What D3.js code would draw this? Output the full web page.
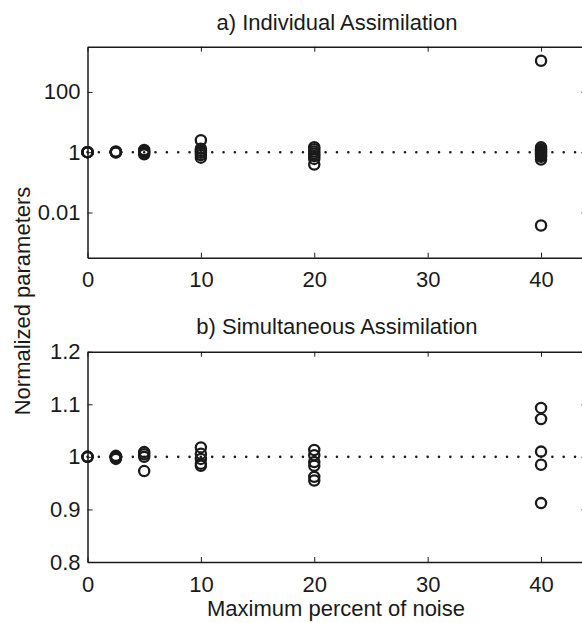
<!DOCTYPE html>
<html>
<head>
<meta charset="utf-8">
<script src="https://cdn.jsdelivr.net/npm/d3@7"></script>
<style>
  body { margin: 0; background: #fff; }
  svg { display: block; font-family: "Liberation Sans", Arial, Helvetica, sans-serif; }
</style>
</head>
<body>
<svg id="root"></svg>
<script>
// Normalized parameters vs maximum percent of noise, two panels

// noise levels (x positions of the columns)
const noiseLevels = [0, 2.5, 5, 10, 20, 40];

// a) individual assimilation, one list per noise level (log axis)
const individual = [
  [1, 1, 1, 1, 1],
  [1.06, 1.02, 1, 0.97],
  [1.18, 1.05, 0.95, 0.85],
  [2.5, 1.3, 1.1, 0.95, 0.8, 0.66],
  [1.47, 1.25, 1.05, 0.9, 0.75, 0.6, 0.39],
  [1080, 1.45, 1.25, 1.1, 1.0, 0.9, 0.8, 0.7, 0.57, 0.0037]
];

// b) simultaneous assimilation, one list per noise level
const simultaneous = [
  [1, 1, 1],
  [1.002, 1.0, 0.998, 0.996],
  [1.009, 1.005, 1.0, 0.973],
  [1.018, 1.006, 0.996, 0.987, 0.983],
  [1.013, 1.003, 0.99, 0.983, 0.962, 0.955],
  [1.093, 1.072, 1.01, 0.985, 0.912]
];

const xTicks = [0, 10, 20, 30, 40];
const yTicksA = [0.01, 1, 100];
const yTicksB = [0.8, 0.9, 1, 1.1, 1.2];

const width = 582, height = 623;
const ink = "#1a1a1a";
const fontSize = 22;

const svg = d3.select("#root").attr("width", width).attr("height", height);

// shared x scale (the right edge of the box falls just outside the picture)
const xScale = d3.scaleLinear([0, 44], [87.5, 586.4]);

const panels = [
  {
    title: "a) Individual Assimilation",
    data: individual,
    y: d3.scaleLog([Math.pow(10, -3.5), Math.pow(10, 3.5)], [257.7, 46.7]),
    ticks: yTicksA,
    fmt: (d) => String(d),
    titleY: 30,
    pad: 13.5,
  },
  {
    title: "b) Simultaneous Assimilation",
    data: simultaneous,
    y: d3.scaleLinear([0.8, 1.2], [562, 351.7]),
    ticks: yTicksB,
    fmt: d3.format("~g"),
    titleY: 334,
    pad: 14.5,
  },
];

panels.forEach((p) => {
  const [yBottom, yTop] = p.y.range();
  const [xLeft, xRight] = xScale.range();
  const g = svg.append("g");

  // reference line at 1 (dotted, one dot per unit of x)
  const line = d3.line().x((d) => xScale(d[0])).y((d) => p.y(d[1]));
  const step = xScale(1) - xScale(0);
  g.append("path")
    .datum([[0, 1], [44, 1]])
    .attr("d", line)
    .attr("fill", "none")
    .attr("stroke", ink)
    .attr("stroke-width", 2.6)
    .attr("stroke-linecap", "round")
    .attr("stroke-dasharray", `0,${step}`);

  // circles
  const pts = [];
  p.data.forEach((vals, i) => vals.forEach((v) => pts.push([noiseLevels[i], v])));
  g.selectAll("circle")
    .data(pts)
    .join("circle")
    .attr("cx", (d) => xScale(d[0]))
    .attr("cy", (d) => p.y(d[1]))
    .attr("r", 5.1)
    .attr("fill", "none")
    .attr("stroke", ink)
    .attr("stroke-width", 2.3);

  // axes, ticks pointing inward on all four sides
  const bottom = g.append("g")
    .attr("transform", `translate(0,${yBottom})`)
    .call(d3.axisBottom(xScale).tickValues(xTicks).tickSize(-5).tickSizeOuter(0).tickPadding(p.pad));
  const top = g.append("g")
    .attr("transform", `translate(0,${yTop})`)
    .call(d3.axisTop(xScale).tickValues(xTicks).tickSize(-5).tickSizeOuter(0).tickFormat(""));
  const left = g.append("g")
    .attr("transform", `translate(${xLeft},0)`)
    .call(d3.axisLeft(p.y).tickValues(p.ticks).tickFormat(p.fmt).tickSize(-5).tickSizeOuter(0).tickPadding(7));
  const right = g.append("g")
    .attr("transform", `translate(${xRight},0)`)
    .call(d3.axisRight(p.y).tickValues(p.ticks).tickSize(-5).tickSizeOuter(0).tickFormat(""));

  [bottom, top, left, right].forEach((a) => {
    a.selectAll("path").attr("stroke", ink).attr("stroke-width", 1.5);
    a.selectAll("line").attr("stroke", ink).attr("stroke-width", 1);
    a.selectAll("text").attr("fill", ink).attr("font-size", fontSize).attr("font-family", null);
  });

  // panel title
  svg.append("text")
    .attr("x", (xLeft + xRight) / 2)
    .attr("y", p.titleY)
    .attr("text-anchor", "middle")
    .attr("font-size", fontSize)
    .attr("fill", ink)
    .text(p.title);
});

// shared axis labels
svg.append("text")
  .attr("x", 336)
  .attr("y", 616)
  .attr("text-anchor", "middle")
  .attr("font-size", fontSize)
  .attr("fill", ink)
  .text("Maximum percent of noise");

svg.append("text")
  .attr("transform", "translate(30,301) rotate(-90)")
  .attr("text-anchor", "middle")
  .attr("font-size", fontSize)
  .attr("fill", ink)
  .text("Normalized parameters");
</script>
</body>
</html>
